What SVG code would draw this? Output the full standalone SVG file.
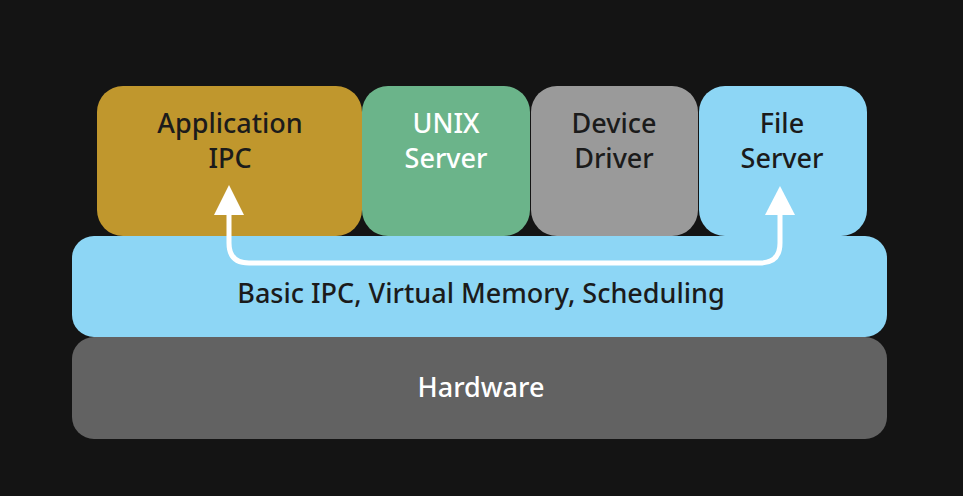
<svg xmlns="http://www.w3.org/2000/svg" width="963" height="496" viewBox="0 0 963 496">
<style>
.t{font-family:"Noto Sans","Open Sans",sans-serif;font-size:27px;font-weight:500;text-anchor:middle}
.d{fill:#1b1b1b}
.w{fill:#ffffff}
</style>
<defs>
<marker id="ah" markerWidth="32" markerHeight="30" refX="0" refY="15" orient="auto" markerUnits="userSpaceOnUse" viewBox="0 0 30 30">
<path d="M0,0 L30,15 L0,30 Z" fill="#ffffff"/>
</marker>
</defs>
<rect width="963" height="496" fill="#141414"/>
<g id="hardware">
<rect x="72" y="337" width="815" height="102" rx="22" fill="#626262"/>
<text class="t w" x="481" y="397">Hardware</text>
</g>
<g id="kernel">
<rect x="72" y="236" width="815" height="101" rx="22" fill="#8dd6f5"/>
<text class="t d" x="481" y="303">Basic IPC, Virtual Memory, Scheduling</text>
</g>
<g id="app">
<rect x="97" y="86" width="265" height="150" rx="26" fill="#c0972d"/>
<text class="t d" x="230" y="133">Application</text>
<text class="t d" x="230" y="168">IPC</text>
</g>
<g id="unix">
<rect x="362" y="86" width="168" height="150" rx="26" fill="#6bb48a"/>
<text class="t w" x="446" y="133">UNIX</text>
<text class="t w" x="446" y="168">Server</text>
</g>
<g id="device">
<rect x="531" y="86" width="167" height="150" rx="26" fill="#9a9a9a"/>
<text class="t d" x="614" y="133">Device</text>
<text class="t d" x="614" y="168">Driver</text>
</g>
<g id="file">
<rect x="699" y="86" width="168" height="150" rx="26" fill="#8dd6f5"/>
<text class="t d" x="782" y="133">File</text>
<text class="t d" x="782" y="168">Server</text>
</g>
<g id="connectors">
<path d="M229,214 V243 Q229,263 249,263 H760 Q780,263 780,243 V214" fill="none" stroke="#ffffff" stroke-width="5"/>
<path d="M229,185 L244,215 L214,215 Z" fill="#ffffff"/>
<path d="M780,186 L795,215 L765,215 Z" fill="#ffffff"/>
</g>
</svg>
